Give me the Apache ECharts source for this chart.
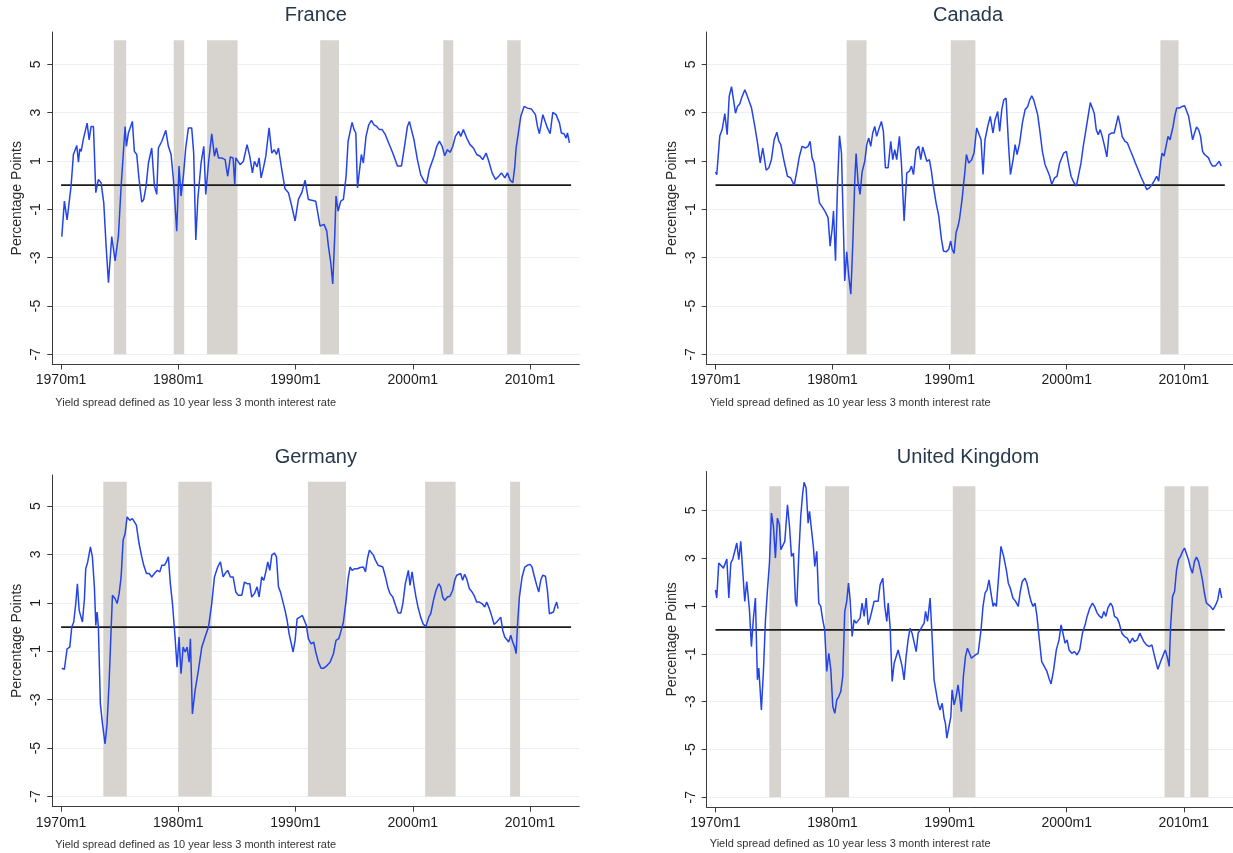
<!DOCTYPE html>
<html>
<head>
<meta charset="utf-8">
<title>Yield spreads</title>
<script src="https://cdn.jsdelivr.net/npm/echarts@6.0.0/dist/echarts.min.js"></script>
<style>
  html, body { margin: 0; padding: 0; background: #fff; }
  #chart { width: 1233px; height: 853px; }
</style>
</head>
<body>
<div id="chart"></div>
<script>
// axis ticks and ranges
const X_TICKS = [1970, 1980, 1990, 2000, 2010];
const Y_TICKS = [-7, -5, -3, -1, 1, 3, 5];
const X_RANGE = [1969.25, 2014.2];
const Y_MIN = -7.42;
const SHADE_RANGE = [-7, 6];
const ZERO_SPAN = [1970, 2013.5];
const NOTE = "Yield spread defined as 10 year less 3 month interest rate";

// recession periods [start, end] in decimal years
const FRANCE_RECESSIONS = [[1974.5, 1975.55], [1979.6, 1980.5], [1982.45, 1985.05], [1992.1, 1993.7], [2002.6, 2003.45], [2008.05, 2009.2]];
const CANADA_RECESSIONS = [[1981.2, 1982.9], [1990.1, 1992.2], [2008.0, 2009.55]];
const GERMANY_RECESSIONS = [[1973.6, 1975.6], [1980.0, 1982.85], [1991.05, 1994.3], [2001.05, 2003.65], [2008.3, 2009.15]];
const UK_RECESSIONS = [[1974.6, 1975.6], [1979.35, 1981.4], [1990.27, 1992.2], [2008.35, 2010.05], [2010.55, 2012.1]];

// yield spread, [decimal year, percentage points]
const FRANCE_SPREAD = [[1970.06,-2.13],[1970.28,-0.66],[1970.51,-1.44],[1970.68,-0.73],[1970.85,-0.04],[1971.05,1.27],[1971.34,1.64],[1971.48,0.95],[1971.59,1.5],[1971.71,1.4],[1971.9,1.91],[1972.22,2.57],[1972.39,1.88],[1972.56,2.43],[1972.76,2.43],[1972.96,-0.31],[1973.18,0.24],[1973.41,0.1],[1973.64,-0.73],[1973.84,-2.52],[1974.04,-4.03],[1974.32,-2.13],[1974.61,-3.13],[1974.89,-2.1],[1975.12,-0.04],[1975.46,2.43],[1975.57,1.61],[1975.74,2.16],[1975.91,2.16],[1976.08,2.64],[1976.25,1.4],[1976.45,1.27],[1976.65,0.24],[1976.88,-0.7],[1977.05,-0.59],[1977.25,-0.04],[1977.45,0.92],[1977.73,1.54],[1977.96,-0.04],[1978.16,-0.38],[1978.3,1.54],[1978.59,1.82],[1978.93,2.27],[1979.15,1.61],[1979.38,1.27],[1979.58,0.24],[1979.86,-1.9],[1980.06,0.79],[1980.23,-0.45],[1980.43,0.37],[1980.63,1.54],[1980.86,2.37],[1981.14,2.37],[1981.31,1.33],[1981.49,-2.27],[1981.66,-0.59],[1981.8,-0.52],[1981.94,0.92],[1982.05,0.99],[1982.17,1.61],[1982.34,-0.38],[1982.57,0.92],[1982.85,2.13],[1983.08,1.2],[1983.25,1.54],[1983.42,1.13],[1983.7,1.13],[1983.99,1.06],[1984.21,0.37],[1984.44,1.17],[1984.67,1.13],[1984.81,0.03],[1984.9,1.13],[1985.27,0.85],[1985.55,0.99],[1985.86,1.68],[1986.09,1.2],[1986.32,0.51],[1986.49,0.99],[1986.72,0.76],[1986.89,1.13],[1987.06,0.3],[1987.26,0.72],[1987.46,1.2],[1987.74,2.37],[1987.97,1.33],[1988.19,1.47],[1988.37,1.27],[1988.54,1.54],[1988.82,0.65],[1989.1,-0.15],[1989.39,-0.31],[1989.67,-0.86],[1989.96,-1.48],[1990.24,-0.59],[1990.53,-0.31],[1990.81,0.21],[1991.09,-0.59],[1991.38,-0.62],[1991.72,-0.66],[1992.09,-1.69],[1992.43,-1.62],[1992.66,-1.9],[1992.8,-2.52],[1993.0,-3.2],[1993.17,-4.09],[1993.34,-2.1],[1993.45,-0.45],[1993.63,-1.07],[1993.85,-0.66],[1994.08,-0.59],[1994.31,0.37],[1994.48,1.82],[1994.65,1.82],[1994.82,2.6],[1994.99,2.3],[1995.14,2.16],[1995.28,-0.11],[1995.44,-0.04],[1995.61,1.27],[1995.78,0.92],[1996.01,2.02],[1996.24,2.5],[1996.47,2.68],[1996.69,2.5],[1996.92,2.43],[1997.15,2.3],[1997.38,2.3],[1997.66,2.09],[1997.94,1.75],[1998.29,1.33],[1998.69,0.79],[1999.03,0.79],[1999.25,1.47],[1999.54,2.43],[1999.71,2.64],[1999.88,2.3],[2000.1,1.88],[2000.39,1.06],[2000.67,0.44],[2000.96,0.17],[2001.18,0.07],[2001.41,0.65],[2001.58,0.58],[2001.81,1.2],[2002.04,1.61],[2002.27,1.82],[2002.5,1.61],[2002.72,1.22],[2002.95,1.47],[2003.18,1.36],[2003.41,1.61],[2003.63,2.02],[2003.91,2.23],[2004.09,2.02],[2004.31,2.3],[2004.6,1.95],[2004.88,1.68],[2005.17,1.54],[2005.45,1.27],[2005.74,1.2],[2005.96,1.06],[2006.25,1.33],[2006.48,0.99],[2006.76,0.51],[2007.05,0.24],[2007.33,0.37],[2007.56,0.51],[2007.85,0.3],[2008.07,0.51],[2008.3,0.21],[2008.53,0.1],[2008.7,0.79],[2008.81,1.54],[2008.98,1.61],[2009.21,2.85],[2009.49,3.26],[2009.78,3.19],[2010.12,3.15],[2010.46,2.92],[2010.63,2.43],[2010.8,2.13],[2011.09,2.92],[2011.26,2.85],[2011.48,2.37],[2011.71,2.13],[2011.94,3.01],[2012.22,2.92],[2012.51,2.57],[2012.67,2.16],[2012.9,2.13],[2013.07,1.95],[2013.19,2.16],[2013.36,1.75]];

const CANADA_SPREAD = [[1970.0,0.54],[1970.11,0.44],[1970.37,2.05],[1970.57,2.3],[1970.8,2.96],[1971.0,2.09],[1971.17,3.67],[1971.37,4.08],[1971.54,3.53],[1971.71,2.98],[1971.88,3.26],[1972.08,3.37],[1972.22,3.6],[1972.51,3.95],[1972.73,3.67],[1973.08,3.19],[1973.36,2.43],[1973.59,1.75],[1973.82,0.92],[1974.04,1.54],[1974.16,1.61],[1974.33,0.62],[1974.56,0.72],[1974.78,1.06],[1975.01,1.88],[1975.24,2.19],[1975.41,1.82],[1975.58,1.68],[1975.86,0.99],[1976.15,0.37],[1976.43,0.3],[1976.72,-0.01],[1976.95,0.58],[1977.17,1.2],[1977.4,1.61],[1977.69,1.54],[1977.91,1.61],[1978.08,1.82],[1978.25,1.13],[1978.42,0.92],[1978.65,0.1],[1978.88,-0.73],[1979.16,-0.93],[1979.39,-1.11],[1979.62,-1.35],[1979.79,-2.52],[1979.96,-1.83],[1980.08,-1.07],[1980.25,-3.13],[1980.42,-0.04],[1980.59,2.05],[1980.76,1.33],[1980.93,-1.83],[1981.04,-3.96],[1981.21,-2.76],[1981.38,-3.75],[1981.56,-4.51],[1981.73,-2.38],[1981.9,0.24],[1982.01,1.31],[1982.18,0.1],[1982.35,-0.38],[1982.52,0.54],[1982.75,0.99],[1982.92,1.68],[1983.09,1.95],[1983.26,1.61],[1983.43,2.16],[1983.6,2.43],[1983.77,2.02],[1983.94,2.3],[1984.17,2.64],[1984.34,2.23],[1984.51,0.72],[1984.74,0.72],[1984.97,1.82],[1985.14,1.06],[1985.31,1.47],[1985.48,1.06],[1985.71,2.02],[1985.88,0.92],[1986.11,-1.48],[1986.34,0.51],[1986.56,0.58],[1986.74,0.79],[1986.91,0.44],[1987.13,1.47],[1987.36,1.61],[1987.53,1.06],[1987.7,1.58],[1987.87,1.64],[1988.05,0.99],[1988.27,1.06],[1988.44,0.58],[1988.61,-0.04],[1988.84,-0.73],[1989.07,-1.28],[1989.3,-2.24],[1989.47,-2.72],[1989.7,-2.76],[1989.92,-2.65],[1990.09,-2.31],[1990.21,-2.65],[1990.38,-2.82],[1990.55,-1.96],[1990.72,-1.69],[1990.84,-1.41],[1991.06,-0.59],[1991.29,0.51],[1991.43,1.27],[1991.63,0.92],[1991.86,1.03],[1992.08,1.33],[1992.31,2.37],[1992.48,2.43],[1992.68,1.88],[1992.85,0.44],[1993.02,1.88],[1993.25,2.43],[1993.47,2.85],[1993.7,2.16],[1993.88,2.71],[1994.1,3.05],[1994.27,2.23],[1994.45,3.12],[1994.62,3.53],[1994.82,3.6],[1995.02,1.75],[1995.19,0.44],[1995.42,1.06],[1995.59,1.68],[1995.76,1.27],[1995.98,1.75],[1996.21,2.57],[1996.44,3.12],[1996.67,3.26],[1996.84,3.53],[1997.01,3.7],[1997.18,3.53],[1997.35,3.53],[1997.52,2.91],[1997.69,2.3],[1997.92,1.4],[1998.15,0.85],[1998.38,0.58],[1998.55,0.37],[1998.72,0.03],[1998.95,0.3],[1999.17,0.37],[1999.4,0.92],[1999.57,0.99],[1999.74,1.33],[1999.97,1.4],[2000.14,0.92],[2000.37,0.37],[2000.59,0.12],[2000.82,-0.04],[2000.99,0.03],[2001.22,0.92],[2001.39,1.54],[2001.56,1.61],[2001.78,2.71],[2002.01,3.42],[2002.18,3.47],[2002.35,2.98],[2002.52,2.3],[2002.69,2.09],[2002.86,2.3],[2003.03,2.02],[2003.2,1.68],[2003.43,1.17],[2003.6,2.09],[2003.82,2.16],[2004.05,2.16],[2004.22,2.5],[2004.39,2.88],[2004.56,2.5],[2004.73,2.02],[2004.96,1.82],[2005.18,1.75],[2005.41,1.47],[2005.64,1.2],[2005.86,0.92],[2006.09,0.65],[2006.32,0.37],[2006.6,0.07],[2006.83,-0.18],[2007.06,-0.11],[2007.29,0.03],[2007.46,0.17],[2007.68,0.37],[2007.85,0.17],[2008.03,0.99],[2008.14,1.33],[2008.31,1.2],[2008.48,1.27],[2008.65,2.02],[2008.82,1.88],[2009.08,2.43],[2009.22,2.85],[2009.39,3.19],[2009.62,3.19],[2009.85,3.26],[2010.07,3.29],[2010.24,3.26],[2010.41,2.85],[2010.58,2.37],[2010.75,1.88],[2010.92,2.16],[2011.09,2.41],[2011.26,2.3],[2011.43,2.02],[2011.6,1.4],[2011.77,1.27],[2011.94,1.2],[2012.11,1.13],[2012.28,0.92],[2012.45,0.79],[2012.68,0.79],[2012.85,0.81],[2013.02,0.99],[2013.19,0.79]];

const GERMANY_SPREAD = [[1970.06,-1.7],[1970.28,-1.75],[1970.51,-0.9],[1970.74,-0.83],[1970.91,0.0],[1971.08,0.21],[1971.25,0.97],[1971.39,1.79],[1971.54,0.69],[1971.71,0.62],[1971.82,0.21],[1971.99,1.17],[1972.1,2.41],[1972.27,2.69],[1972.5,3.31],[1972.67,2.9],[1972.84,1.66],[1972.96,0.07],[1973.07,0.62],[1973.18,0.0],[1973.35,-3.17],[1973.53,-4.0],[1973.75,-4.83],[1973.92,-4.0],[1974.09,-2.34],[1974.21,-0.83],[1974.38,1.31],[1974.61,1.17],[1974.78,0.97],[1974.95,1.38],[1975.12,2.07],[1975.29,3.59],[1975.46,3.86],[1975.63,4.55],[1975.86,4.41],[1976.08,4.48],[1976.25,4.41],[1976.42,4.21],[1976.65,3.45],[1976.88,2.9],[1977.05,2.55],[1977.28,2.21],[1977.51,2.21],[1977.73,2.07],[1977.96,2.21],[1978.19,2.34],[1978.42,2.28],[1978.59,2.55],[1978.81,2.55],[1978.98,2.69],[1979.15,2.9],[1979.32,1.79],[1979.5,0.97],[1979.72,-0.41],[1979.89,-1.66],[1980.06,-0.41],[1980.23,-1.93],[1980.41,-0.83],[1980.58,-1.03],[1980.75,-0.83],[1980.92,-1.45],[1981.03,-0.48],[1981.2,-3.59],[1981.43,-2.62],[1981.71,-1.79],[1982.0,-0.83],[1982.28,-0.41],[1982.57,0.0],[1982.85,0.97],[1983.08,2.07],[1983.36,2.48],[1983.59,2.69],[1983.82,2.07],[1983.99,2.21],[1984.21,2.34],[1984.44,2.07],[1984.67,2.07],[1984.9,1.45],[1985.12,1.31],[1985.41,1.31],[1985.64,1.86],[1985.86,1.79],[1986.09,1.79],[1986.26,1.24],[1986.49,1.38],[1986.72,1.66],[1986.89,1.24],[1987.11,2.07],[1987.29,1.93],[1987.46,2.28],[1987.63,2.69],[1987.8,2.34],[1987.97,2.97],[1988.19,3.06],[1988.37,2.9],[1988.54,1.66],[1988.71,1.45],[1988.88,1.38],[1989.1,0.69],[1989.28,0.28],[1989.45,-0.28],[1989.62,-0.34],[1989.79,-1.03],[1989.96,-0.55],[1990.13,0.34],[1990.36,0.41],[1990.58,0.48],[1990.75,0.55],[1990.92,0.07],[1991.09,-0.48],[1991.32,-0.69],[1991.55,-0.62],[1991.72,-1.03],[1991.95,-1.45],[1992.17,-1.7],[1992.4,-1.7],[1992.66,-1.6],[1992.94,-1.45],[1993.23,-1.1],[1993.45,-0.55],[1993.68,-0.48],[1993.85,-0.21],[1994.08,0.21],[1994.31,1.1],[1994.48,2.0],[1994.65,2.48],[1994.82,2.34],[1995.05,2.41],[1995.28,2.41],[1995.5,2.46],[1995.79,2.48],[1995.96,2.28],[1996.13,2.83],[1996.3,3.17],[1996.47,3.17],[1996.64,2.97],[1996.81,2.76],[1997.04,2.55],[1997.21,2.62],[1997.44,2.48],[1997.67,2.07],[1997.9,1.59],[1998.06,1.38],[1998.29,1.24],[1998.52,0.9],[1998.75,0.58],[1998.98,0.58],[1999.15,0.97],[1999.36,1.79],[1999.62,2.34],[1999.76,1.72],[1999.94,2.28],[2000.1,1.72],[2000.27,1.24],[2000.44,0.83],[2000.67,0.41],[2000.9,0.11],[2001.13,0.03],[2001.36,0.41],[2001.53,0.55],[2001.76,1.1],[2001.98,1.52],[2002.21,1.79],[2002.38,1.66],[2002.55,1.24],[2002.72,1.1],[2002.95,1.24],[2003.17,1.27],[2003.4,1.52],[2003.57,1.93],[2003.74,2.14],[2003.91,2.07],[2004.08,2.21],[2004.25,1.93],[2004.42,2.18],[2004.59,2.0],[2004.82,1.59],[2005.05,1.45],[2005.22,1.31],[2005.45,1.03],[2005.67,1.03],[2005.9,0.97],[2006.13,0.83],[2006.3,1.03],[2006.53,0.76],[2006.76,0.41],[2006.93,0.11],[2007.16,0.21],[2007.33,0.17],[2007.5,0.41],[2007.67,-0.14],[2007.84,-0.41],[2008.01,-0.34],[2008.18,-0.62],[2008.35,-0.34],[2008.52,-0.62],[2008.69,-0.83],[2008.81,-1.1],[2008.92,0.0],[2009.09,1.24],[2009.32,2.07],[2009.55,2.48],[2009.77,2.55],[2010.0,2.59],[2010.17,2.48],[2010.34,2.14],[2010.57,1.72],[2010.74,1.45],[2010.91,1.93],[2011.08,2.14],[2011.31,2.1],[2011.48,1.52],[2011.65,0.55],[2011.82,0.55],[2011.99,0.62],[2012.16,0.9],[2012.27,1.03],[2012.39,0.76]];

const UK_SPREAD = [[1970.0,1.67],[1970.11,1.33],[1970.28,2.79],[1970.45,2.72],[1970.68,2.58],[1970.8,2.65],[1970.97,2.96],[1971.14,1.33],[1971.31,2.79],[1971.48,2.96],[1971.65,3.04],[1971.82,3.63],[1971.99,2.93],[1972.16,3.7],[1972.33,3.7],[1972.5,1.19],[1972.67,2.02],[1972.9,0.84],[1973.07,-0.7],[1973.24,0.49],[1973.41,1.33],[1973.58,-2.09],[1973.7,-1.6],[1973.92,-3.35],[1974.1,-1.67],[1974.27,0.42],[1974.44,1.67],[1974.61,2.79],[1974.78,4.88],[1974.95,4.33],[1975.12,3.0],[1975.29,4.67],[1975.46,4.4],[1975.58,3.35],[1975.75,3.28],[1975.92,3.7],[1976.15,5.23],[1976.32,4.33],[1976.49,3.07],[1976.66,3.21],[1976.83,1.19],[1976.94,0.98],[1977.11,3.07],[1977.28,4.74],[1977.45,5.72],[1977.57,6.17],[1977.74,5.93],[1977.91,4.46],[1978.03,4.95],[1978.2,4.95],[1978.37,3.42],[1978.48,2.65],[1978.65,3.28],[1978.82,1.12],[1978.99,0.98],[1979.16,0.42],[1979.33,0.0],[1979.5,-1.74],[1979.68,-0.98],[1979.85,-1.67],[1980.02,-3.21],[1980.19,-3.49],[1980.36,-2.93],[1980.53,-2.79],[1980.7,-2.58],[1980.87,-1.95],[1981.04,0.77],[1981.21,1.19],[1981.36,1.95],[1981.5,1.26],[1981.67,-0.28],[1981.84,0.42],[1982.01,0.28],[1982.18,0.25],[1982.35,0.49],[1982.52,1.12],[1982.7,0.56],[1982.87,1.33],[1983.04,0.21],[1983.21,0.49],[1983.38,0.84],[1983.55,1.19],[1983.72,1.12],[1983.89,1.19],[1984.06,1.88],[1984.29,2.16],[1984.46,0.98],[1984.63,0.35],[1984.75,1.12],[1984.92,0.07],[1985.09,-2.16],[1985.26,-1.4],[1985.43,-1.33],[1985.6,-0.84],[1985.77,-0.91],[1985.94,-1.53],[1986.11,-2.09],[1986.28,-1.12],[1986.45,-0.42],[1986.62,0.07],[1986.79,-0.14],[1986.96,-0.21],[1987.14,-0.91],[1987.31,-0.14],[1987.48,0.0],[1987.65,0.07],[1987.82,0.28],[1987.94,0.77],[1988.11,0.35],[1988.33,1.33],[1988.5,-0.28],[1988.67,-2.09],[1988.84,-2.58],[1989.01,-3.07],[1989.18,-3.35],[1989.36,-3.07],[1989.53,-3.7],[1989.64,-3.91],[1989.76,-4.53],[1989.93,-4.58],[1990.1,-3.63],[1990.21,-2.51],[1990.38,-3.14],[1990.55,-2.79],[1990.72,-2.3],[1990.89,-2.93],[1991.0,-3.42],[1991.17,-1.95],[1991.35,-1.12],[1991.52,-0.77],[1991.69,-0.84],[1991.86,-1.19],[1992.03,-1.19],[1992.2,-1.05],[1992.43,-0.98],[1992.52,-0.98],[1992.68,0.0],[1992.85,0.98],[1993.02,1.53],[1993.19,1.67],[1993.36,2.09],[1993.53,1.53],[1993.71,0.98],[1993.82,1.12],[1993.99,0.98],[1994.16,2.09],[1994.38,3.49],[1994.61,3.07],[1994.84,2.51],[1995.01,1.95],[1995.18,1.74],[1995.4,1.33],[1995.63,1.19],[1995.86,0.98],[1996.03,1.6],[1996.2,2.02],[1996.43,2.16],[1996.6,1.95],[1996.78,1.53],[1996.95,1.19],[1997.12,0.98],[1997.29,1.12],[1997.46,0.56],[1997.63,-0.28],[1997.86,-1.33],[1998.08,-1.53],[1998.31,-1.74],[1998.48,-2.02],[1998.66,-2.26],[1998.88,-1.67],[1999.11,-0.84],[1999.34,-0.42],[1999.52,0.21],[1999.69,0.28],[1999.86,-0.56],[2000.03,-0.42],[2000.2,-0.84],[2000.43,-0.98],[2000.66,-0.91],[2000.88,-1.05],[2001.11,-0.84],[2001.34,-0.14],[2001.57,0.21],[2001.74,0.56],[2001.97,0.91],[2002.2,1.12],[2002.37,0.98],[2002.6,0.7],[2002.82,0.56],[2003.0,0.49],[2003.17,0.77],[2003.34,0.56],[2003.51,0.91],[2003.74,1.12],[2003.91,0.98],[2004.08,0.56],[2004.31,0.49],[2004.48,0.28],[2004.71,-0.14],[2004.94,-0.28],[2005.17,-0.35],[2005.39,-0.56],[2005.62,-0.35],[2005.79,-0.49],[2006.02,-0.42],[2006.24,-0.14],[2006.41,-0.07],[2006.58,-0.49],[2006.81,-0.63],[2007.04,-0.7],[2007.27,-0.63],[2007.44,-0.56],[2007.61,-1.33],[2007.78,-1.65],[2007.95,-1.67],[2008.07,-1.26],[2008.24,-1.33],[2008.41,-0.84],[2008.58,-1.12],[2008.75,-1.53],[2008.87,0.14],[2009.04,1.4],[2009.21,1.6],[2009.38,2.51],[2009.55,2.93],[2009.72,3.07],[2009.89,3.28],[2010.06,3.42],[2010.23,3.42],[2010.4,2.93],[2010.57,2.58],[2010.74,2.37],[2010.91,2.86],[2011.08,3.04],[2011.25,2.86],[2011.42,2.51],[2011.59,2.09],[2011.76,1.53],[2011.93,1.12],[2012.1,1.19],[2012.27,0.98],[2012.5,0.84],[2012.73,1.05],[2012.9,1.26],[2013.07,1.74],[2013.24,1.33]];

const FONT = "'Liberation Sans', Arial, Helvetica, sans-serif";
const LINE_BLUE = "#2444e8";
const SHADE = "#d7d4cf";
const AXIS_GREY = "#3c3c3c";
const GRID_LINE = "#edf0f3";
const TITLE_COLOR = "#26384b";

const panels = [
  { name: "France", spread: FRANCE_SPREAD, recessions: FRANCE_RECESSIONS,
    left: 52.3, top: 32, width: 527, height: 332.5, yMax: 6.34, titleY: 15.5, noteY: 403.3 },
  { name: "Canada", spread: CANADA_SPREAD, recessions: CANADA_RECESSIONS,
    left: 706.7, top: 32, width: 526.6, height: 332.5, yMax: 6.34, titleY: 15.5, noteY: 403.3 },
  { name: "Germany", spread: GERMANY_SPREAD, recessions: GERMANY_RECESSIONS,
    left: 52.3, top: 475, width: 527, height: 331.7, yMax: 6.28, titleY: 457, noteY: 845 },
  { name: "United Kingdom", spread: UK_SPREAD, recessions: UK_RECESSIONS,
    left: 706.7, top: 471.5, width: 526.6, height: 335.8, yMax: 6.62, titleY: 457, noteY: 843.5 },
];

const grid = [];
const xAxis = [];
const yAxis = [];
const series = [];
const graphic = [];

panels.forEach((p, i) => {
  const span = p.yMax - Y_MIN;
  const tickTop = p.top + (p.yMax - Y_TICKS[Y_TICKS.length - 1]) / span * p.height;
  const tickHeight = (Y_TICKS[Y_TICKS.length - 1] - Y_TICKS[0]) / span * p.height;

  // band grid used only for the faint horizontal grid lines
  grid.push({ left: p.left, top: tickTop, width: p.width, height: tickHeight, containLabel: false });
  xAxis.push({ gridIndex: 2 * i, type: "value", min: X_RANGE[0], max: X_RANGE[1], show: false });
  yAxis.push({
    gridIndex: 2 * i, type: "value", min: Y_TICKS[0], max: Y_TICKS[Y_TICKS.length - 1], interval: 2,
    axisLine: { show: false }, axisTick: { show: false }, axisLabel: { show: false },
    splitLine: { show: true, lineStyle: { color: GRID_LINE, width: 1 } },
  });

  // main plot grid
  grid.push({ left: p.left, top: p.top, width: p.width, height: p.height, containLabel: false });
  xAxis.push({
    gridIndex: 2 * i + 1, type: "value", min: X_RANGE[0], max: X_RANGE[1],
    axisLine: { show: true, onZero: false, lineStyle: { color: AXIS_GREY, width: 1 } },
    axisTick: { show: true, length: 5, customValues: X_TICKS, lineStyle: { color: AXIS_GREY } },
    axisLabel: {
      customValues: X_TICKS, margin: 9, fontSize: 14, fontFamily: FONT, color: "#1c1c1c",
      formatter: (v) => `${v}m1`,
    },
    splitLine: { show: false },
  });
  yAxis.push({
    gridIndex: 2 * i + 1, type: "value", min: Y_MIN, max: p.yMax,
    name: "Percentage Points", nameLocation: "middle", nameGap: 28,
    nameTextStyle: { fontSize: 14, fontFamily: FONT, color: "#2a2a2a" },
    axisLine: { show: true, onZero: false, lineStyle: { color: AXIS_GREY, width: 1 } },
    axisTick: { show: true, length: 5, customValues: Y_TICKS, lineStyle: { color: AXIS_GREY } },
    axisLabel: { customValues: Y_TICKS, rotate: 90, margin: 9, fontSize: 14, fontFamily: FONT, color: "#1c1c1c" },
    splitLine: { show: false },
  });

  // zero line with recession shading behind it
  series.push({
    name: p.name + " zero",
    type: "line",
    xAxisIndex: 2 * i + 1,
    yAxisIndex: 2 * i + 1,
    data: ZERO_SPAN.map((x) => [x, 0]),
    symbol: "none",
    silent: true,
    z: 2,
    lineStyle: { color: "#1a1a1a", width: 1.8 },
    markArea: {
      silent: true,
      itemStyle: { color: SHADE },
      data: p.recessions.map(([a, b]) => [{ coord: [a, SHADE_RANGE[0]] }, { coord: [b, SHADE_RANGE[1]] }]),
    },
  });

  series.push({
    name: p.name,
    type: "line",
    xAxisIndex: 2 * i + 1,
    yAxisIndex: 2 * i + 1,
    data: p.spread,
    symbol: "none",
    z: 3,
    lineStyle: { color: LINE_BLUE, width: 1.5 },
  });

  graphic.push({
    type: "text",
    x: p.left + p.width / 2 - (i % 2 === 1 ? 2 : 0),
    y: p.titleY,
    style: {
      text: p.name, fill: TITLE_COLOR, font: `20px ${FONT}`,
      textAlign: "center", textVerticalAlign: "middle",
    },
  });
  graphic.push({
    type: "text",
    x: p.left + 3,
    y: p.noteY,
    style: {
      text: NOTE, fill: "#333", font: `11px ${FONT}`,
      textAlign: "left", textVerticalAlign: "middle",
    },
  });
});

const chart = echarts.init(document.getElementById("chart"), null, { renderer: "canvas" });
chart.setOption({
  animation: false,
  backgroundColor: "#ffffff",
  textStyle: { fontFamily: FONT },
  grid,
  xAxis,
  yAxis,
  series,
  graphic,
});
</script>
</body>
</html>
